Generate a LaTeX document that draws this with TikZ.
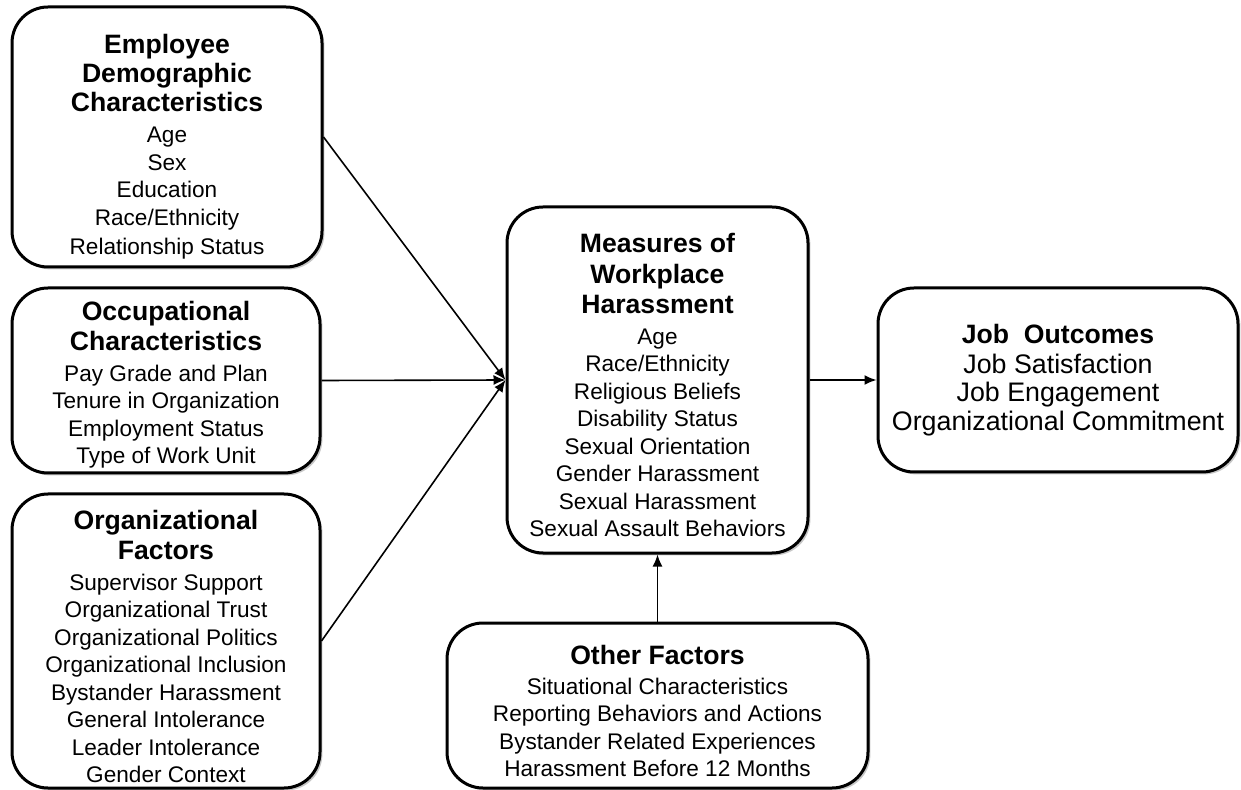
\documentclass[tikz,border=0pt]{standalone}
\usepackage{fontspec}
\setmainfont{Liberation Sans}
\usetikzlibrary{arrows.meta,shadows}
\newcommand\boxtitle{\fontsize{13.3}{15.5}\selectfont\bfseries}
\newcommand\liftby[1]{\rule{0pt}{#1}}
\begin{document}
\begin{tikzpicture}[x=0.5pt,y=-0.5pt,
  box/.style={rounded corners=18pt, draw=black, line width=1.5pt, fill=white,
    align=center, inner sep=0pt,
    drop shadow={shadow xshift=1.2pt, shadow yshift=-1.2pt, opacity=0.22, fill=black},
    font=\fontsize{11.3}{13.75}\selectfont},
  conn/.style={line width=0.8pt, -{Latex[length=6pt,width=5pt]}}]
\useasboundingbox (0,0) rectangle (1241,790);

\node[box, minimum width=155pt, minimum height=130pt] (emp) at (167,137)
  {\liftby{19pt}{\boxtitle Employee}\\[0.8pt]{\boxtitle Demographic}\\[0.8pt]{\boxtitle Characteristics}\\[2pt]
   Age\\Sex\\Education\\Race/Ethnicity\\[0.8pt]Relationship Status};

\node[box, minimum width=154pt, minimum height=92.5pt] (occ) at (166,380.5)
  {\liftby{14pt}{\boxtitle Occupational}\\[1.5pt]{\boxtitle Characteristics}\\[1.5pt]
   Pay Grade and Plan\\Tenure in Organization\\Employment Status\\Type of Work Unit};

\node[box, minimum width=154pt, minimum height=147pt] (org) at (166,641)
  {\liftby{15pt}{\boxtitle Organizational}\\[1.5pt]{\boxtitle Factors}\\[1.5pt]
   Supervisor Support\\Organizational Trust\\Organizational Politics\\Organizational Inclusion\\
   Bystander Harassment\\General Intolerance\\Leader Intolerance\\Gender Context};

\node[box, minimum width=150.5pt, minimum height=173pt] (meas) at (657.5,380)
  {\liftby{15pt}{\boxtitle Measures of}\\[1.5pt]{\boxtitle Workplace}\\[1.5pt]{\boxtitle Harassment}\\[1.5pt]
   Age\\Race/Ethnicity\\Religious Beliefs\\Disability Status\\Sexual Orientation\\
   Gender Harassment\\Sexual Harassment\\Sexual Assault Behaviors};

\node[box, minimum width=180pt, minimum height=92pt, font=\fontsize{13.4}{14.3}\selectfont] (job) at (1058,380)
  {{\boxtitle Job\ \ Outcomes}\\[0.8pt]
   Job Satisfaction\\Job Engagement\\Organizational Commitment};

\node[box, minimum width=210.5pt, minimum height=82.5pt] (oth) at (657.5,705.5)
  {\liftby{15.5pt}{\boxtitle Other Factors}\\[1pt]
   Situational Characteristics\\Reporting Behaviors and Actions\\Bystander Related Experiences\\Harassment Before 12 Months};

\draw[conn] (emp.east) -- (meas.west);
\draw[conn] (occ.east) -- (meas.west);
\draw[conn] (org.east) -- (meas.west);
\draw[conn] (meas.east) -- (job.west);
\draw[conn] (oth.north) -- (meas.south);
\end{tikzpicture}
\end{document}
